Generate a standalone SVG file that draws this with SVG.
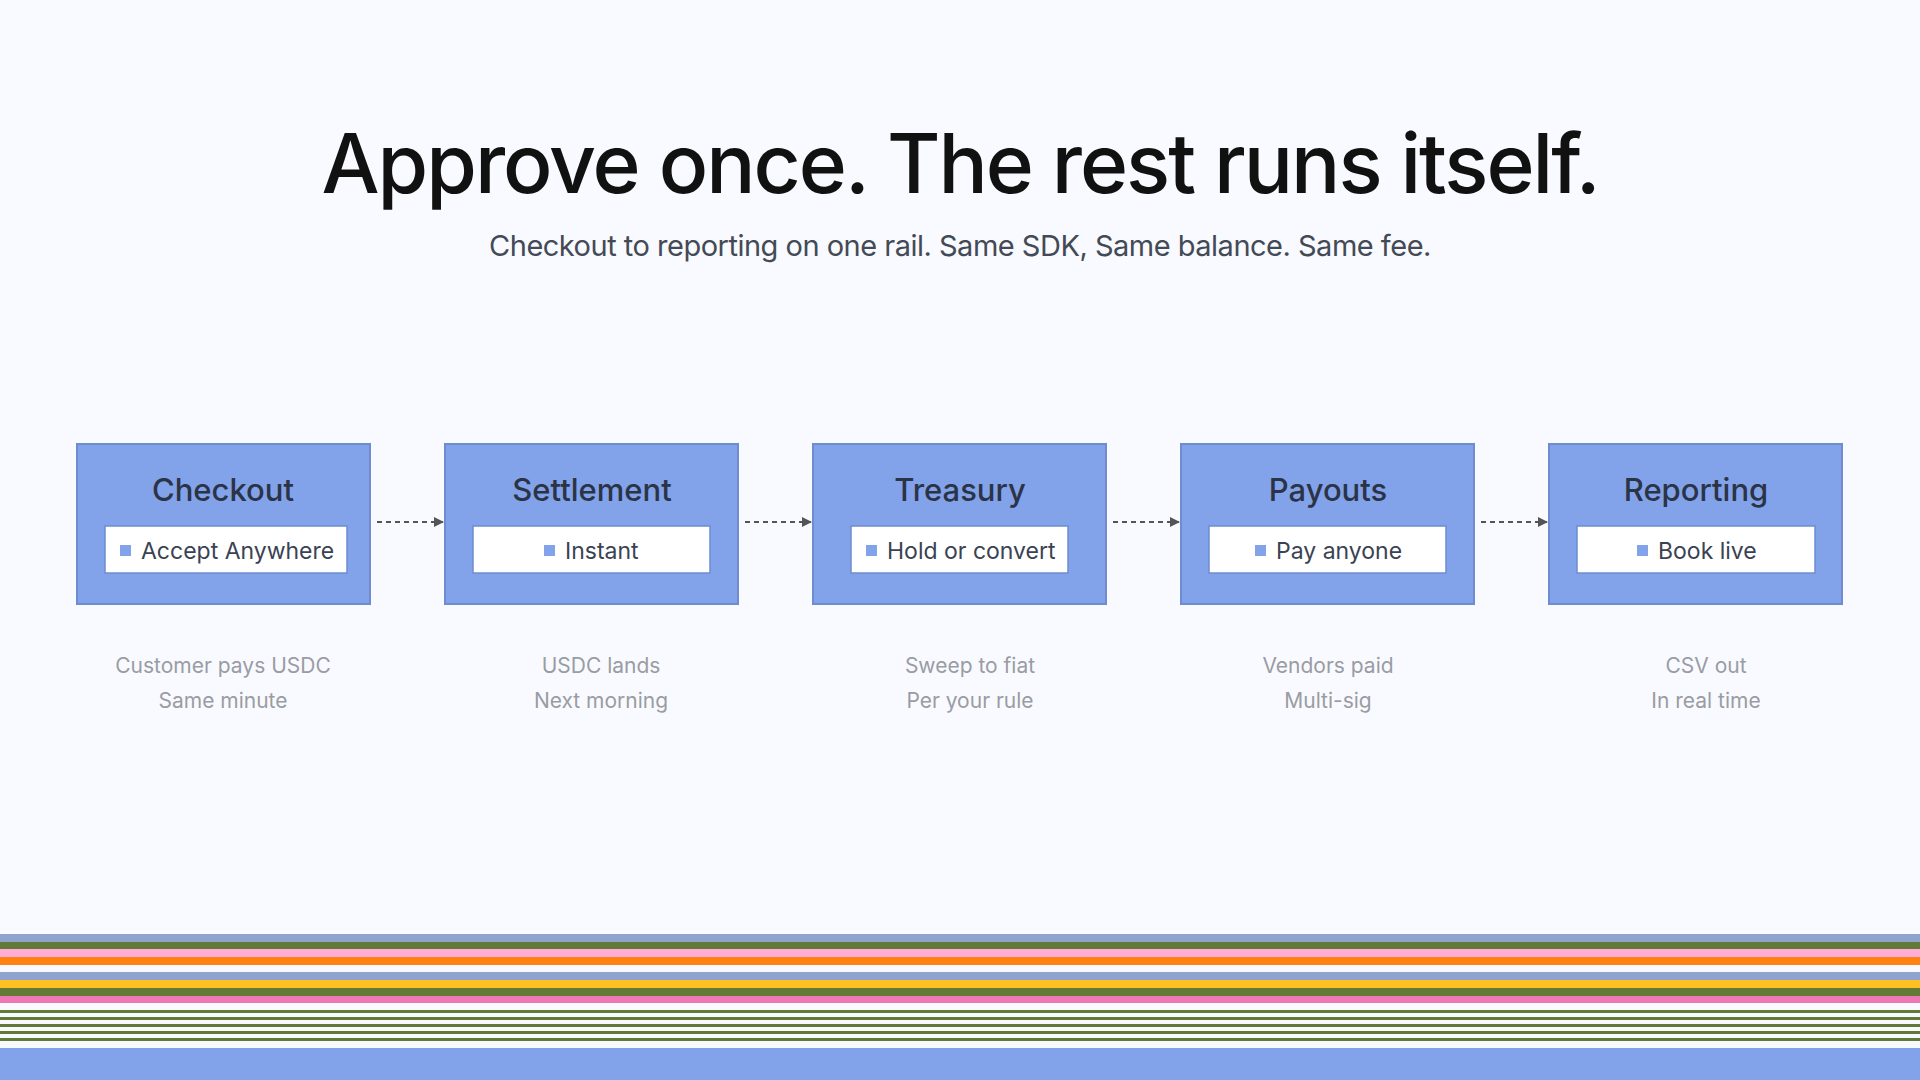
<svg xmlns="http://www.w3.org/2000/svg" width="1920" height="1080" viewBox="0 0 1920 1080">
<defs>
<style>
text{font-family:Inter,"Noto Sans",sans-serif}
.box{fill:#82a2ea;stroke:#6f8ccf;stroke-width:2}
.in{fill:#fff;stroke:#6f8ccf;stroke-width:1.5}
.t{font-size:31px;fill:#2b3447;text-anchor:middle;font-weight:500}
.i{font-size:23px;fill:#3a4253}
.c{font-size:21px;fill:#9a9ca3;text-anchor:middle}
.sq{fill:#82a2ea}
.ln{stroke:#555;stroke-width:2;stroke-dasharray:5 4;fill:none}
</style>
<marker id="ah" viewBox="0 0 10 10" refX="9" refY="5" markerWidth="10" markerHeight="10" markerUnits="userSpaceOnUse" orient="auto"><path d="M0,0L10,5L0,10z" fill="#555"/></marker>
</defs>
<rect width="1920" height="1080" fill="#f8faff"/>
<text x="960" y="193" text-anchor="middle" font-size="82" font-weight="500" fill="#111" letter-spacing="-2">Approve once. The rest runs itself.</text>
<text x="960" y="256" text-anchor="middle" font-size="29" fill="#444a55" letter-spacing="-0.5">Checkout to reporting on one rail. Same SDK, Same balance. Same fee.</text>
<g id="connectors">
<line class="ln" x1="377" y1="522" x2="443" y2="522" marker-end="url(#ah)"/>
<line class="ln" x1="745" y1="522" x2="811" y2="522" marker-end="url(#ah)"/>
<line class="ln" x1="1113" y1="522" x2="1179" y2="522" marker-end="url(#ah)"/>
<line class="ln" x1="1481" y1="522" x2="1547" y2="522" marker-end="url(#ah)"/>
</g>
<g id="checkout"><rect class="box" x="77" y="444" width="293" height="160"/><text class="t" x="223" y="501">Checkout</text><rect class="in" x="105" y="526" width="242" height="47"/><rect class="sq" x="120" y="545" width="11" height="11"/><text class="i" x="141" y="559">Accept Anywhere</text></g>
<g id="settlement"><rect class="box" x="445" y="444" width="293" height="160"/><text class="t" x="592" y="501">Settlement</text><rect class="in" x="473" y="526" width="237" height="47"/><rect class="sq" x="544" y="545" width="11" height="11"/><text class="i" x="565" y="559">Instant</text></g>
<g id="treasury"><rect class="box" x="813" y="444" width="293" height="160"/><text class="t" x="960" y="501">Treasury</text><rect class="in" x="851" y="526" width="217" height="47"/><rect class="sq" x="866" y="545" width="11" height="11"/><text class="i" x="887" y="559">Hold or convert</text></g>
<g id="payouts"><rect class="box" x="1181" y="444" width="293" height="160"/><text class="t" x="1328" y="501">Payouts</text><rect class="in" x="1209" y="526" width="237" height="47"/><rect class="sq" x="1255" y="545" width="11" height="11"/><text class="i" x="1276" y="559">Pay anyone</text></g>
<g id="reporting"><rect class="box" x="1549" y="444" width="293" height="160"/><text class="t" x="1696" y="501">Reporting</text><rect class="in" x="1577" y="526" width="238" height="47"/><rect class="sq" x="1637" y="545" width="11" height="11"/><text class="i" x="1658" y="559">Book live</text></g>
<g id="captions">
<text class="c" x="223" y="673">Customer pays USDC</text><text class="c" x="223" y="708">Same minute</text>
<text class="c" x="601" y="673">USDC lands</text><text class="c" x="601" y="708">Next morning</text>
<text class="c" x="970" y="673">Sweep to fiat</text><text class="c" x="970" y="708">Per your rule</text>
<text class="c" x="1328" y="673">Vendors paid</text><text class="c" x="1328" y="708">Multi-sig</text>
<text class="c" x="1706" y="673">CSV out</text><text class="c" x="1706" y="708">In real time</text>
</g>
<g id="stripes">
<rect y="934" width="1920" height="8" fill="#8fa3cf"/>
<rect y="942" width="1920" height="7" fill="#637a37"/>
<rect y="949" width="1920" height="8" fill="#ffadd6"/>
<rect y="957" width="1920" height="8" fill="#ff8210"/>
<rect y="972" width="1920" height="8" fill="#8fa3cf"/>
<rect y="980" width="1920" height="8" fill="#ffc024"/>
<rect y="988" width="1920" height="8" fill="#637a37"/>
<rect y="996" width="1920" height="7" fill="#ee78b5"/>
<rect y="1010" width="1920" height="3" fill="#637a37"/>
<rect y="1017" width="1920" height="3" fill="#637a37"/>
<rect y="1024" width="1920" height="3" fill="#637a37"/>
<rect y="1031" width="1920" height="3" fill="#637a37"/>
<rect y="1038" width="1920" height="3" fill="#637a37"/>
<rect y="1048" width="1920" height="32" fill="#82a2ea"/>
</g>
</svg>
